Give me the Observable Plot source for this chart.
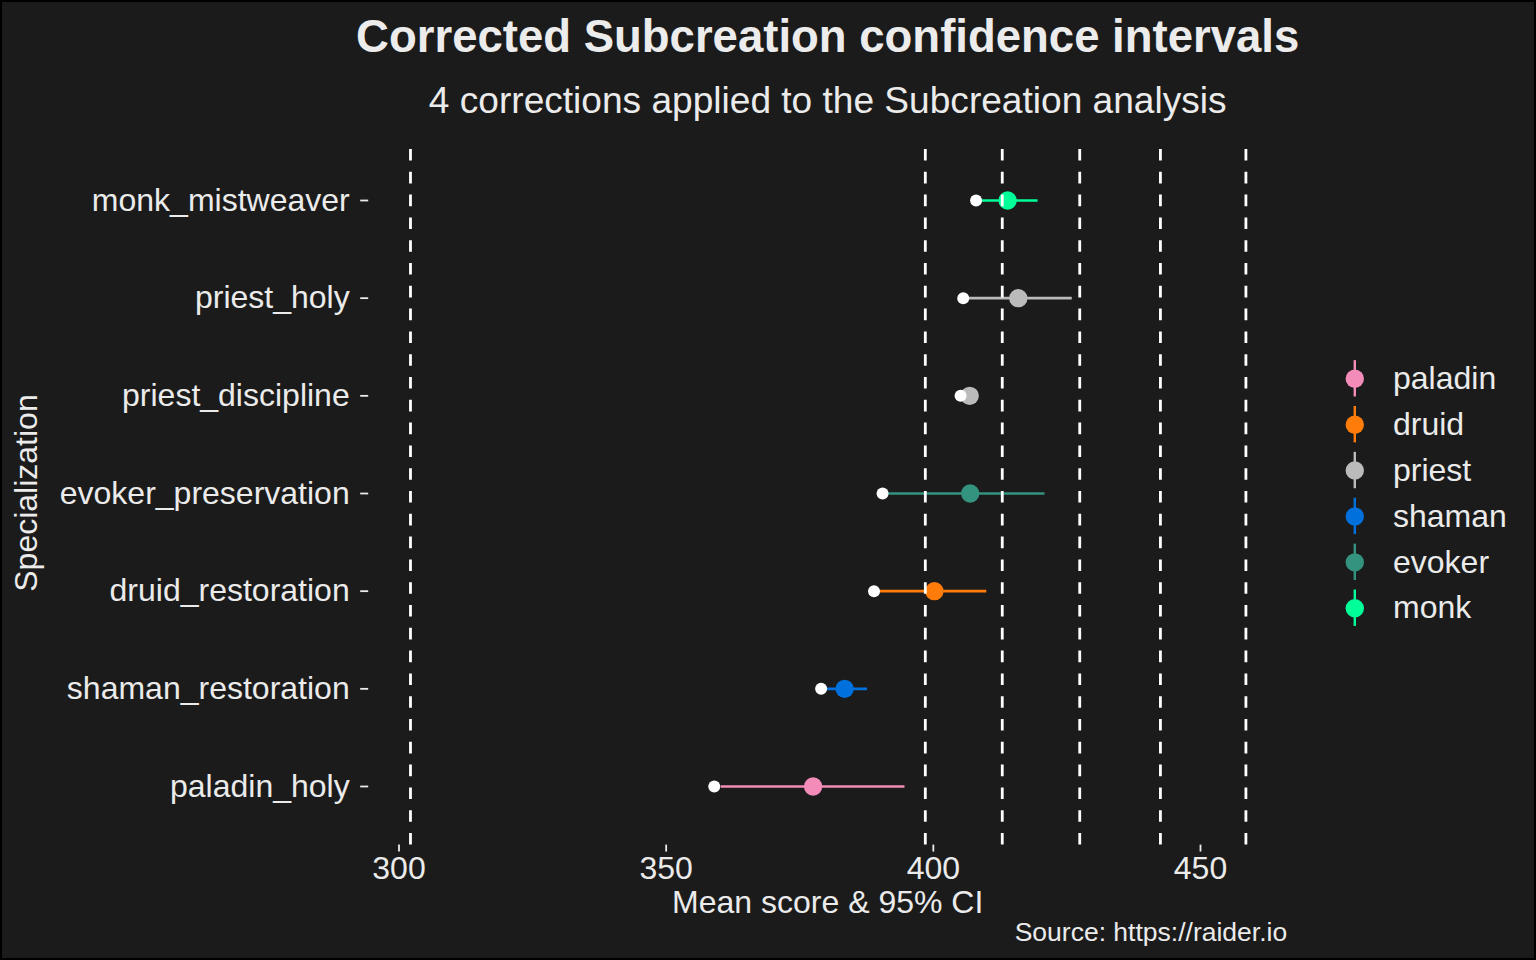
<!DOCTYPE html>
<html>
<head>
<meta charset="utf-8">
<script src="https://cdn.jsdelivr.net/npm/d3@7"></script>
<script src="https://cdn.jsdelivr.net/npm/@observablehq/plot@0.6"></script>
<style>
  html, body { margin: 0; padding: 0; background: #1b1b1b; overflow: hidden; }
  #wrap { position: relative; width: 1536px; height: 960px; background: #1b1b1b; overflow: hidden;
          font-family: "Liberation Sans", Arial, Helvetica, sans-serif; color: #ebebeb; }
  .t { position: absolute; line-height: 1; white-space: nowrap; }
  #frame { position: absolute; left: 0; top: 0; width: 1536px; height: 960px;
           box-sizing: border-box; border: 2px solid #000; pointer-events: none; }
</style>
</head>
<body>
<div id="wrap">
  <div id="chart" style="position:absolute;left:0;top:0;"></div>
  <div id="legend" style="position:absolute;left:1320px;top:350px;"></div>
  <div class="t" id="title" style="left:227.7px;width:1200px;text-align:center;top:14.2px;font-size:45.5px;font-weight:bold;color:#ececec;">Corrected Subcreation confidence intervals</div>
  <div class="t" id="subtitle" style="left:227.7px;width:1200px;text-align:center;top:81.9px;font-size:37.1px;">4 corrections applied to the Subcreation analysis</div>
  <div class="t" id="xtitle" style="left:368.2px;width:919px;text-align:center;top:885.6px;font-size:32px;">Mean score &amp; 95% CI</div>
  <div class="t" id="caption" style="left:368.2px;width:919px;text-align:right;top:919.3px;font-size:26.5px;">Source: https://raider.io</div>
  <div class="t" id="ytitle" style="left:-174.1px;width:400px;text-align:center;top:477px;font-size:32px;transform:rotate(-90deg);">Specialization</div>
  <div id="frame"></div>
</div>
<script>
// ---- data ----
const specs = ["monk_mistweaver", "priest_holy", "priest_discipline", "evoker_preservation",
               "druid_restoration", "shaman_restoration", "paladin_holy"];
const specClass = ["monk", "priest", "priest", "evoker", "druid", "shaman", "paladin"];
const correctedMean = [413.9, 415.9, 406.8, 406.9, 400.2, 383.4, 377.5];
const ciLower = [408.2, 405.8, 405.6, 391.0, 389.5, 379.1, 360.3];
const ciUpper = [419.6, 426.0, 408.0, 420.9, 410.0, 387.7, 394.7];
const originalMean = [408.0, 405.6, 405.1, 390.5, 388.9, 379.0, 359.0];
const cutoffs = [302.15, 398.5, 412.9, 427.4, 442.5, 458.5];
const legendClasses = ["paladin", "druid", "priest", "shaman", "evoker", "monk"];
const classColors = ["#F48CBA", "#FF7C0A", "#BBBBBB", "#0070DD", "#33937F", "#00FF98"];
const xTicks = [300, 350, 400, 450];

const rows = specs.map((s, i) => ({
  spec: s, cls: specClass[i], mean: correctedMean[i],
  lo: ciLower[i], hi: ciUpper[i], orig: originalMean[i]
}));

const mTop = 141.4, mBottom = 115.4, H = 960;
const dash = 11.6, gap = 11.2, period = dash + gap;
const L = H - mTop - mBottom;
const dashOffset = ((dash - L) % period + period) % period;
const FONT = "'Liberation Sans', Arial, Helvetica, sans-serif";

const chart = Plot.plot({
  width: 1536, height: H,
  marginLeft: 368.2, marginRight: 248.8, marginTop: mTop, marginBottom: mBottom,
  style: { background: "transparent", color: "#ebebeb", fontFamily: FONT },
  x: { domain: [294.33, 466.32] },
  y: { type: "point", domain: specs, padding: 0.6, round: false },
  color: { domain: legendClasses, range: classColors },
  marks: [
    Plot.ruleY(rows, { y: "spec", x1: "lo", x2: "hi", stroke: "cls", strokeWidth: 2.6 }),
    Plot.dot(rows, { x: "mean", y: "spec", fill: "cls", r: 9.2 }),
    Plot.dot(rows, { x: "orig", y: "spec", fill: "#ffffff", r: 6 }),
    Plot.ruleX(cutoffs, { stroke: "#ffffff", strokeWidth: 2.8,
                          strokeDasharray: `${dash},${gap}`, strokeDashoffset: dashOffset }),
    Plot.axisX({ ticks: xTicks, tickSize: 7, tickPadding: 4, fontSize: 32, strokeWidth: 1.8, label: null }),
    Plot.axisY({ tickSize: 8, tickPadding: 11, fontSize: 32, strokeWidth: 1.8, label: null })
  ]
});
document.getElementById("chart").appendChild(chart);

// legend drawn with Plot, sharing the class colours
const legend = Plot.plot({
  width: 216, height: 290,
  margin: 0,
  style: { background: "transparent", color: "#ebebeb", fontFamily: FONT },
  x: { domain: [0, 216], range: [0, 216], axis: null },
  y: { type: "band", domain: legendClasses, range: [5.35, 280.65], padding: 0, round: false, axis: null },
  color: { domain: legendClasses, range: classColors },
  marks: [
    Plot.tickX(legendClasses, { x: 34.3, y: d => d, stroke: d => d, strokeWidth: 2.4,
                                insetTop: 4.75, insetBottom: 4.75 }),
    Plot.dot(legendClasses, { x: 34.3, y: d => d, fill: d => d, r: 9.2 }),
    Plot.text(legendClasses, { x: 72.5, y: d => d, text: d => d, textAnchor: "start",
                               fontSize: 32, fill: "#ebebeb" })
  ]
});
document.getElementById("legend").appendChild(legend);
</script>
</body>
</html>
